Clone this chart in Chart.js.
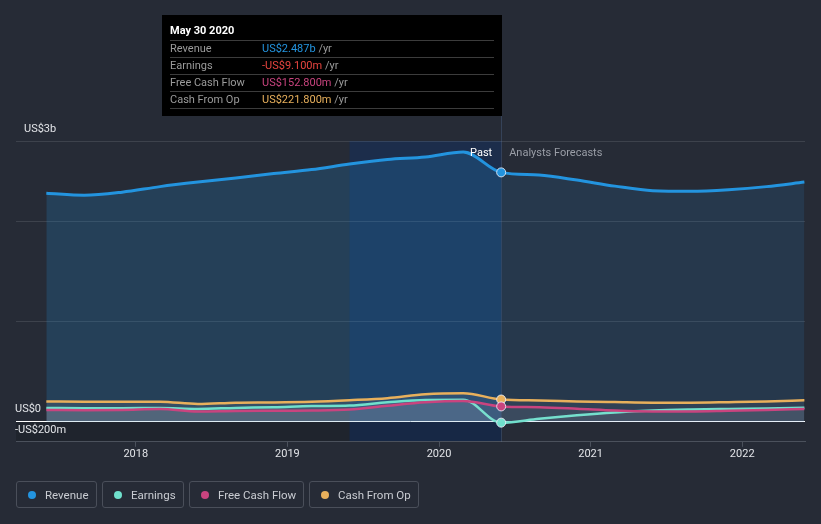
<!DOCTYPE html>
<html>
<head>
<meta charset="utf-8">
<script src="https://cdn.jsdelivr.net/npm/chart.js@4"></script>
<style>
  html, body { margin:0; padding:0; background:#262b36; }
  #wrap { position:relative; width:821px; height:524px; overflow:hidden; }
  canvas { display:block; }
  #legend { position:absolute; left:16px; top:481px; display:flex; gap:5px; font-family:Roboto, sans-serif; font-size:11.5px; color:#c9ccd2; }
  .item { box-sizing:border-box; height:27px; border:1px solid #4a4f5a; border-radius:3px; display:flex; align-items:center; padding-left:11px; }
  .dot { width:8px; height:8px; border-radius:50%; margin-right:9px; }
</style>
</head>
<body>
<div id="wrap">
  <canvas id="c" width="821" height="524"></canvas>
  <div id="legend"></div>
</div>
<script>
// ---- data (US$ millions), x = decimal year ----
const periods  = [2017.41, 2017.66, 2017.91, 2018.16, 2018.41, 2018.66, 2018.91, 2019.16, 2019.41, 2019.66, 2019.91, 2020.16, 2020.41, 2020.66, 2020.91, 2021.16, 2021.41, 2021.66, 2021.91, 2022.16, 2022.41];
const revenue  = [2280, 2260, 2290, 2345, 2390, 2430, 2475, 2515, 2570, 2615, 2640, 2690, 2487, 2460, 2410, 2350, 2305, 2300, 2315, 2345, 2390];
const earnings = [137, 135, 135, 137, 128, 138, 145, 157, 162, 195, 218, 220, -9.1, 30, 65, 93, 112, 122, 128, 133, 140];
const fcf      = [117, 115, 118, 127, 103, 108, 110, 112, 122, 160, 195, 208, 152.8, 145, 130, 112, 103, 103, 110, 118, 127];
const cfo      = [203, 200, 200, 200, 177, 190, 193, 200, 215, 235, 275, 285, 221.8, 213, 203, 196, 190, 190, 195, 202, 215];
const nowIndex = 12;          // May 30 2020
const bandStart = 2019.41;    // last twelve months highlight
const xTicks = [2018, 2019, 2020, 2021, 2022];
const yGrid = [-200, 0, 1000, 2000, 2800];
const yLabels = [{v:2800, t:'US$3b', dx:24}, {v:0, t:'US$0', dx:15}, {v:-200, t:'-US$200m', dx:15}];
const seriesNames = ['Revenue', 'Earnings', 'Free Cash Flow', 'Cash From Op'];
const seriesColors = ['#2394df', '#6fe0cc', '#c9447f', '#e8b05c'];
const tooltipTitle = 'May 30 2020';
const tooltipRows = [
  {label:'Revenue', value:'US$2.487b', color:'#2394df'},
  {label:'Earnings', value:'-US$9.100m', color:'#e8453f'},
  {label:'Free Cash Flow', value:'US$152.800m', color:'#c9447f'},
  {label:'Cash From Op', value:'US$221.800m', color:'#e8b05c'}
];

const FONT = 'Roboto, sans-serif';
Chart.defaults.font.family = FONT;

function pts(arr){ return arr.map((v,i)=>({x:periods[i], y:v})); }
const ptRadius = ctx => ctx.dataIndex === nowIndex ? 4.5 : 0;

function ds(name, data, color, width, fillPast, fillFuture, order){
  return {
    label:name, data:pts(data), borderColor:color, borderWidth:width,
    cubicInterpolationMode:'monotone', fill:'origin',
    backgroundColor:fillPast,
    segment:{ backgroundColor: c => c.p0DataIndex >= nowIndex ? fillFuture : fillPast },
    pointRadius:ptRadius, pointHoverRadius:ptRadius, pointBackgroundColor:color,
    pointBorderColor:'rgba(235,240,250,0.85)', pointBorderWidth:1, order:order
  };
}

const decor = {
  id:'decor',
  beforeDraw(chart){
    const {ctx, chartArea:a, scales:{x,y}} = chart;
    ctx.save();
    ctx.fillStyle = '#262b36';
    ctx.fillRect(0,0,chart.width,chart.height);
    const bx0 = x.getPixelForValue(bandStart), bx1 = x.getPixelForValue(periods[nowIndex]);
    const y0 = y.getPixelForValue(0);
    ctx.fillStyle = 'rgba(0,0,0,0.16)';
    ctx.fillRect(a.left, y0, bx1 - a.left, a.bottom - y0);
    ctx.fillStyle = 'rgba(5,50,125,0.30)';
    ctx.fillRect(bx0, a.top, bx1 - bx0, a.bottom - a.top);
    ctx.restore();
  },
  beforeDatasetsDraw(chart){
    const {ctx, chartArea:a, scales:{x}} = chart;
    const sx = Math.round(x.getPixelForValue(periods[nowIndex])) + 0.5;
    ctx.save();
    ctx.strokeStyle = 'rgba(110,150,210,0.22)';
    ctx.lineWidth = 1;
    ctx.beginPath(); ctx.moveTo(sx, 116); ctx.lineTo(sx, a.bottom); ctx.stroke();
    ctx.restore();
  },
  afterDraw(chart){
    const {ctx, chartArea:a, scales:{x,y}} = chart;
    const sx = x.getPixelForValue(periods[nowIndex]);
    ctx.save();
    // y labels
    ctx.font = '11px ' + FONT;
    ctx.fillStyle = '#e2e4e8';
    ctx.textBaseline = 'middle';
    ctx.textAlign = 'left';
    yLabels.forEach(l => ctx.fillText(l.t, l.dx, y.getPixelForValue(l.v) - 12));
    // past / forecast
    ctx.textAlign = 'right';
    ctx.fillStyle = '#ffffff';
    ctx.fillText('Past', sx - 9, a.top + 12);
    ctx.textAlign = 'left';
    ctx.fillStyle = '#9a9ea7';
    ctx.fillText('Analysts Forecasts', sx + 8, a.top + 12);
    // tooltip box
    const tl = Math.round(sx) - 339, tt = 15, tw = 340, th = 101;
    ctx.fillStyle = '#000000';
    ctx.fillRect(tl, tt, tw, th);
    ctx.font = 'bold 11px ' + FONT;
    ctx.fillStyle = '#ffffff';
    ctx.fillText(tooltipTitle, tl + 8, tt + 16);
    ctx.strokeStyle = '#3c3c3c';
    ctx.lineWidth = 1;
    for (let i = 0; i <= tooltipRows.length; i++) {
      const ly = tt + 25.5 + i * 17;
      ctx.beginPath(); ctx.moveTo(tl + 8, ly); ctx.lineTo(tl + 332, ly); ctx.stroke();
    }
    ctx.font = '11px ' + FONT;
    tooltipRows.forEach((r, i) => {
      const ry = tt + 34 + i * 17;
      ctx.fillStyle = '#9b9b9b';
      ctx.fillText(r.label, tl + 8, ry);
      ctx.fillStyle = r.color;
      ctx.fillText(r.value, tl + 100, ry);
      const w = ctx.measureText(r.value).width;
      ctx.fillStyle = '#9b9b9b';
      ctx.fillText(' /yr', tl + 100 + w, ry);
    });
    ctx.restore();
  }
};

new Chart(document.getElementById('c'), {
  type:'line',
  data:{ datasets:[
    ds(seriesNames[0], revenue,  seriesColors[0], 3,   'rgba(35,148,223,0.20)', 'rgba(35,148,223,0.13)', 4),
    ds(seriesNames[1], earnings, seriesColors[1], 2.5, 'rgba(220,225,235,0.09)', 'rgba(220,225,235,0.06)', 2),
    ds(seriesNames[2], fcf,      seriesColors[2], 2.5, 'rgba(220,225,235,0.09)', 'rgba(220,225,235,0.06)', 1),
    ds(seriesNames[3], cfo,      seriesColors[3], 2.5, 'rgba(220,225,235,0.09)', 'rgba(220,225,235,0.06)', 3)
  ]},
  options:{
    responsive:false, animation:false, events:[],
    layout:{ padding:{ left:16, right:16, top:141, bottom:62 } },
    plugins:{ legend:{display:false}, tooltip:{enabled:false} },
    scales:{
      x:{
        type:'linear', min:2017.21, max:2022.414,
        afterBuildTicks: s => { s.ticks = xTicks.map(v => ({value:v})); },
        ticks:{ color:'#e2e4e8', font:{size:11}, padding:1, maxRotation:0, callback: v => String(v) },
        grid:{ drawOnChartArea:false, drawTicks:true, tickLength:5, color:'#4b515c' },
        border:{ color:'#4b515c' }
      },
      y:{
        type:'linear', min:-200, max:2800,
        afterBuildTicks: s => { s.ticks = yGrid.map(v => ({value:v})); },
        ticks:{ display:false },
        grid:{ drawTicks:false, color: c => c.tick.value === 0 ? '#ffffff' : (c.tick.value === -200 ? 'rgba(0,0,0,0)' : 'rgba(255,255,255,0.11)'), lineWidth:1 },
        border:{ display:false }
      }
    }
  },
  plugins:[decor]
});

// HTML legend
const widths = [81, 82, 115, 110];
const lg = document.getElementById('legend');
seriesNames.forEach((n, i) => {
  const it = document.createElement('div'); it.className = 'item'; it.style.width = widths[i] + 'px';
  const d = document.createElement('span'); d.className = 'dot'; d.style.background = seriesColors[i];
  const t = document.createElement('span'); t.textContent = n;
  it.appendChild(d); it.appendChild(t); lg.appendChild(it);
});
</script>
</body>
</html>
